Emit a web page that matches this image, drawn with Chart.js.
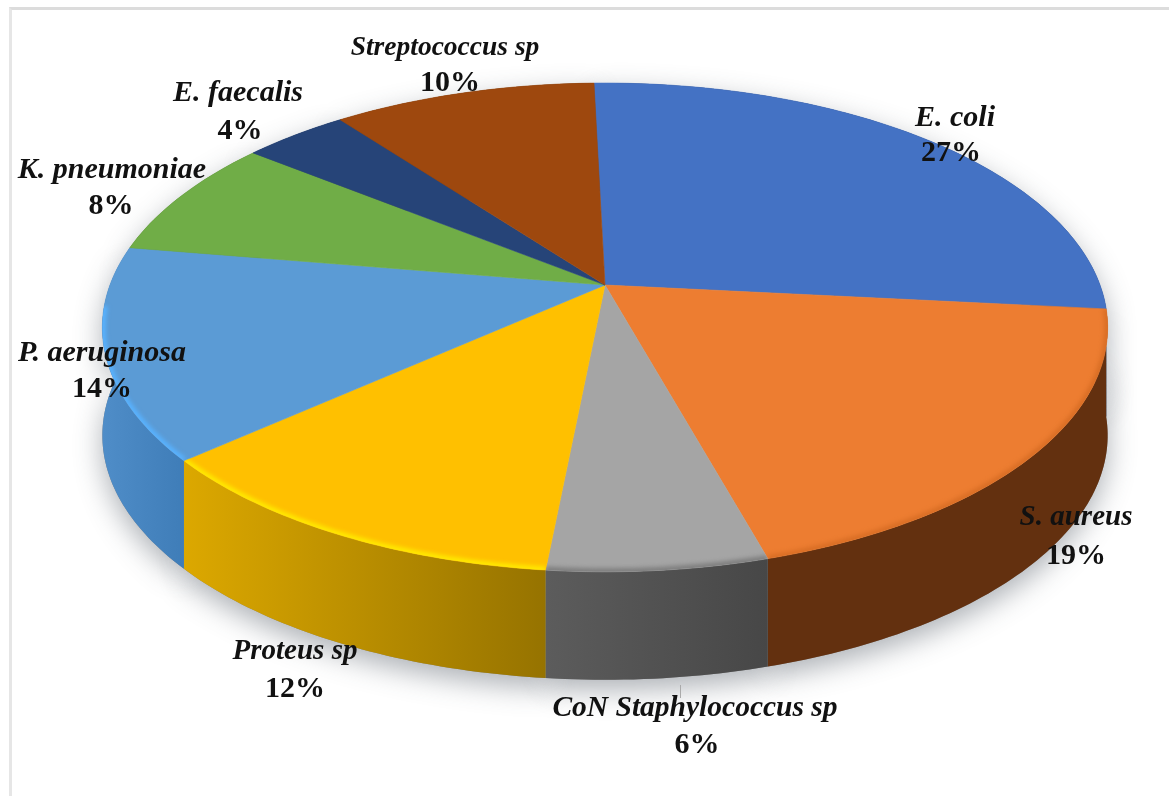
<!DOCTYPE html>
<html>
<head>
<meta charset="utf-8">
<title>Isolated organisms</title>
<script src="https://cdn.jsdelivr.net/npm/chart.js@4"></script>
<style>
  html, body { margin: 0; background: #fff; }
  #frame { position: absolute; left: 9px; top: 7px; right: 0; bottom: 0; border-left: 3px solid #e6e6e6; border-top: 3px solid #dcdcdc; }
  #myChart { position: absolute; left: 0; top: 0; }
</style>
</head>
<body>
<div id="frame"></div>
<canvas id="myChart" width="1169" height="796"></canvas>
<script>
const organisms = ['E. coli', 'S. aureus', 'CoN Staphylococcus sp', 'Proteus sp', 'P. aeruginosa', 'K. pneumoniae', 'E. faecalis', 'Streptococcus sp'];
const percentages = [27, 19, 6, 12, 14, 8, 4, 10];

const faceColors = ['#4472C4', '#ED7D31', '#A5A5A5', '#FFC000', '#5B9BD5', '#70AD47', '#264478', '#9E480E'];
// side wall gradient, left colour then right colour
const wallFrom = ['#2B4A82', '#63300F', '#5C5C5C', '#DCA800', '#4F8DC8', '#4F7A32', '#1B3055', '#6E320A'];
const wallTo = ['#2B4A82', '#63300F', '#474747', '#967300', '#3F7DB8', '#4F7A32', '#1B3055', '#6E320A'];
const rimColors = [null, '#D96E25', '#7E7E7E', '#FFE900', '#58B2FF', null, null, null];

// label centres on the page: name line x, y and percent line x, y
const labelSpots = [
  [955, 118, 951, 153],
  [1076, 518, 1076, 556],
  [695, 708, 697, 745],
  [295, 652, 295, 689],
  [102, 353, 102, 389],
  [112, 170, 111, 206],
  [238, 93, 240, 131],
  [445, 48, 450, 83]
];
const nameSizes = [30, 29, 29.5, 29, 30, 30, 30, 27.5];

// the disc is tilted back, so the far edge shrinks (perspective) and the hub sits above the ellipse middle
const perspective = 0.1736;
const stretchX = 495 / 285;
const stretchY = 237 / 285;
const wallDepth = 108;

function project(arc, angle) {
  const u = Math.cos(angle);
  const v = Math.sin(angle);
  const w = 1 - perspective * v;
  return {
    x: arc.x + arc.outerRadius * stretchX * u / w,
    y: arc.y + arc.outerRadius * stretchY * v / w
  };
}

function edgePoints(arc) {
  const pts = [];
  const steps = Math.max(8, Math.ceil((arc.endAngle - arc.startAngle) * 60));
  for (let i = 0; i <= steps; i++) {
    pts.push(project(arc, arc.startAngle + (arc.endAngle - arc.startAngle) * i / steps));
  }
  return pts;
}

function traceWall(ctx, pts) {
  ctx.beginPath();
  pts.forEach((p, i) => i ? ctx.lineTo(p.x, p.y) : ctx.moveTo(p.x, p.y));
  for (let i = pts.length - 1; i >= 0; i--) {
    ctx.lineTo(pts[i].x, pts[i].y + wallDepth);
  }
  ctx.closePath();
}

function traceFace(ctx, arc, pts) {
  ctx.beginPath();
  ctx.moveTo(arc.x, arc.y);
  pts.forEach(p => ctx.lineTo(p.x, p.y));
  ctx.closePath();
}

const tiltedPie = {
  id: 'tiltedPie',
  beforeDatasetsDraw(chart) {
    const ctx = chart.ctx;
    const arcs = chart.getDatasetMeta(0).data;

    // soft shadow under the whole disc
    ctx.save();
    ctx.shadowColor = 'rgba(60,70,80,0.42)';
    ctx.shadowBlur = 28;
    ctx.shadowOffsetY = 10;
    ctx.fillStyle = '#888';
    arcs.forEach(arc => {
      traceWall(ctx, edgePoints(arc));
      ctx.fill();
    });
    ctx.restore();

    arcs.forEach((arc, i) => {
      const pts = edgePoints(arc);
      const xs = pts.map(p => p.x);
      const grad = ctx.createLinearGradient(Math.min(...xs), 0, Math.max(...xs), 0);
      grad.addColorStop(0, wallFrom[i]);
      grad.addColorStop(1, wallTo[i]);
      traceWall(ctx, pts);
      ctx.fillStyle = grad;
      ctx.fill();
    });

    arcs.forEach(arc => {
      traceFace(ctx, arc, edgePoints(arc));
      ctx.fillStyle = arc.options.backgroundColor;
      ctx.strokeStyle = arc.options.backgroundColor;
      ctx.lineWidth = 0.6;
      ctx.fill();
      ctx.stroke();
    });

    // bevel highlight along the front rim, kept inside each slice
    arcs.forEach((arc, i) => {
      if (!rimColors[i]) return;
      const pts = edgePoints(arc).filter(p => p.y > arc.y + 20);
      ctx.save();
      traceFace(ctx, arc, edgePoints(arc));
      ctx.clip();
      ctx.filter = 'blur(2px)';
      ctx.beginPath();
      pts.forEach((p, j) => j ? ctx.lineTo(p.x, p.y) : ctx.moveTo(p.x, p.y));
      ctx.strokeStyle = rimColors[i];
      ctx.lineWidth = 7;
      ctx.stroke();
      ctx.restore();
    });

    return false;
  },
  afterDraw(chart) {
    const ctx = chart.ctx;
    ctx.save();
    ctx.textAlign = 'center';
    ctx.textBaseline = 'middle';
    ctx.fillStyle = '#111';

    // short leader line above the CoN label
    ctx.strokeStyle = '#aaa';
    ctx.lineWidth = 1;
    ctx.beginPath();
    ctx.moveTo(680.5, 685);
    ctx.lineTo(680.5, 698);
    ctx.stroke();

    organisms.forEach((name, i) => {
      const spot = labelSpots[i];
      ctx.font = 'italic bold ' + nameSizes[i] + 'px "Liberation Serif"';
      ctx.fillText(name, spot[0], spot[1]);
      ctx.font = 'bold 30px "Liberation Serif"';
      ctx.fillText(percentages[i] + '%', spot[2], spot[3]);
    });
    ctx.restore();
  }
};

const chart = new Chart(document.getElementById('myChart'), {
  type: 'pie',
  data: {
    labels: organisms,
    datasets: [{
      data: percentages,
      backgroundColor: faceColors,
      borderWidth: 0
    }]
  },
  options: {
    responsive: false,
    animation: false,
    rotation: -1.5,
    layout: { padding: { left: 41, bottom: 226 } },
    plugins: {
      legend: { display: false },
      tooltip: { enabled: false }
    }
  },
  plugins: [tiltedPie]
});
</script>
</body>
</html>
